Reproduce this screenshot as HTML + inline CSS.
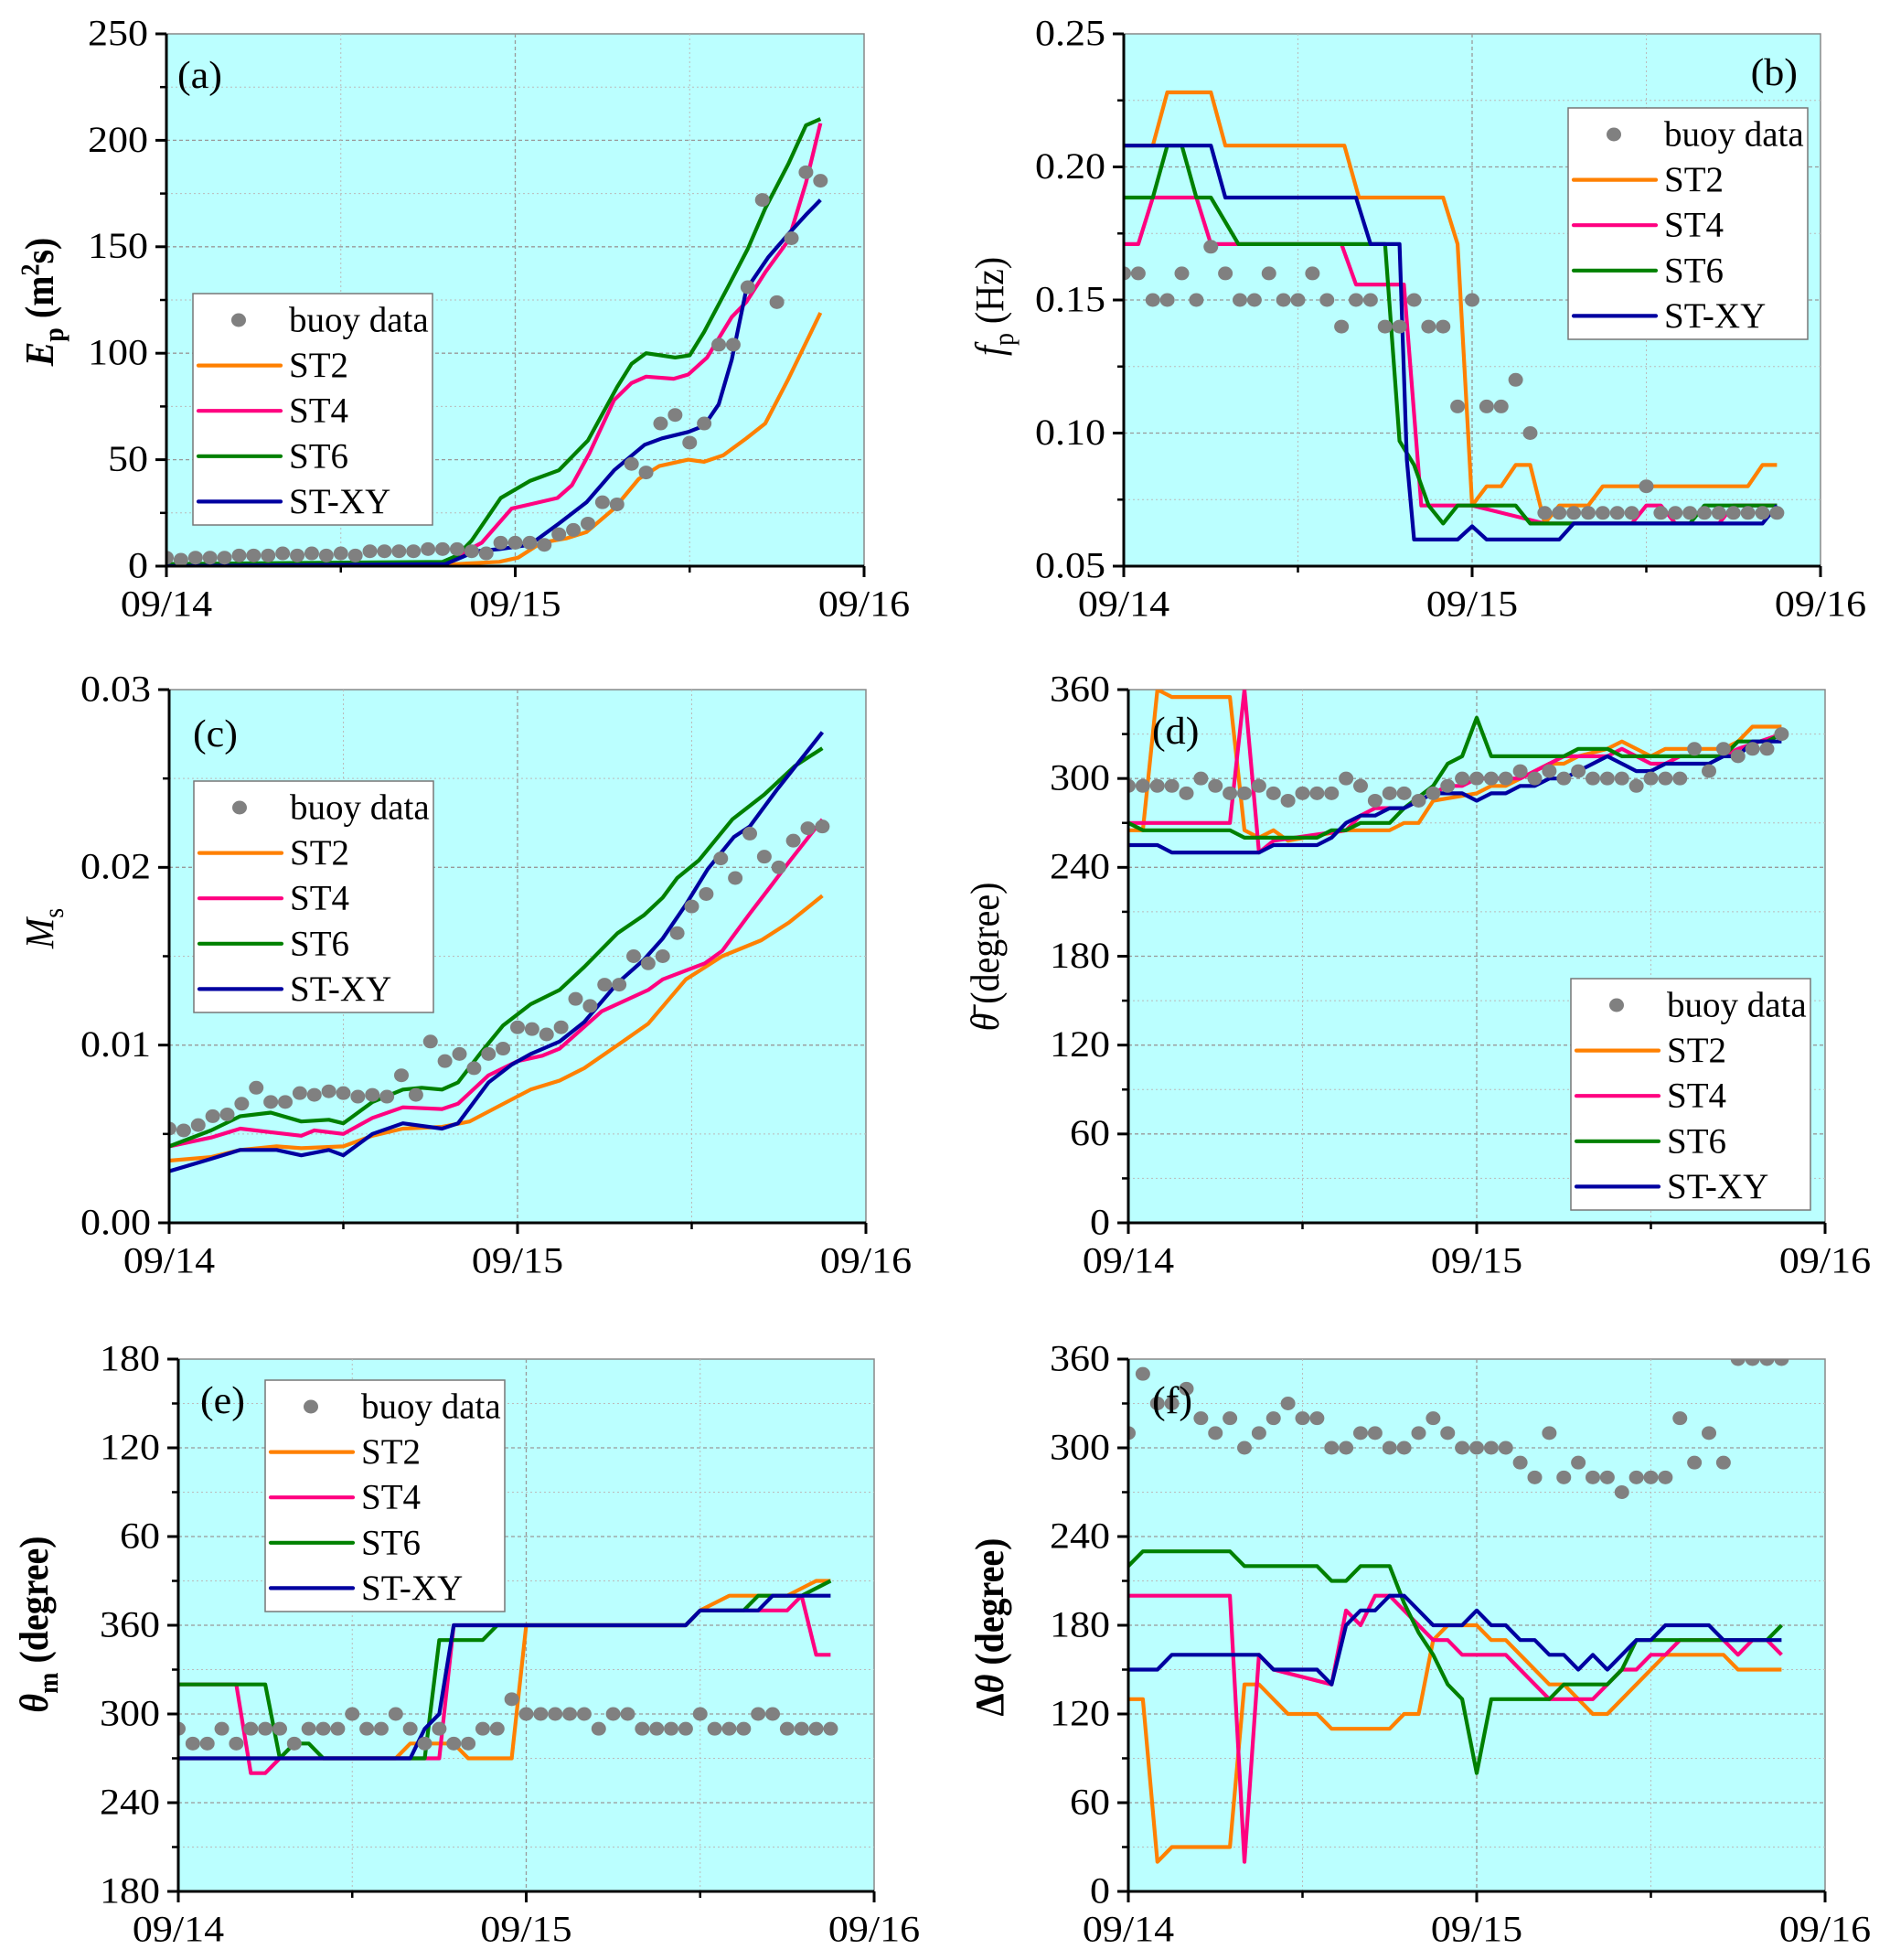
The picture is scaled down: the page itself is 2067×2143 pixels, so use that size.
<!DOCTYPE html>
<html><head><meta charset="utf-8"><style>
html,body{margin:0;padding:0;background:#fff;}
svg{display:block;}
svg text{font-family:"Liberation Serif",serif;}
</style></head><body>
<svg id="fig" xmlns="http://www.w3.org/2000/svg" width="2067" height="2143" viewBox="0 0 2067 2143">
<defs id="defs"></defs>
<text transform="translate(58,330) rotate(-90) scale(1,1.1)" text-anchor="middle" font-size="40" font-weight="bold"><tspan font-style="italic">E</tspan><tspan font-size="28" dy="10">p</tspan><tspan dy="-10"> (m</tspan><tspan font-size="26" dy="-14">2</tspan><tspan dy="14">s)</tspan></text>
<text transform="translate(1097,335) rotate(-90) scale(1,1.1)" text-anchor="middle" font-size="40"><tspan font-style="italic">f</tspan><tspan font-size="28" dy="10">p</tspan><tspan dy="-10"> (Hz)</tspan></text>
<text transform="translate(58,1015) rotate(-90) scale(1,1.1)" text-anchor="middle" font-size="40"><tspan font-style="italic">M</tspan><tspan font-size="28" dy="10">s</tspan></text>
<text transform="translate(1092,1046) rotate(-90) scale(1,1.1)" text-anchor="middle" font-size="40"><tspan font-style="italic">θ̄</tspan><tspan> (degree)</tspan></text>
<text transform="translate(52,1776) rotate(-90) scale(1,1.1)" text-anchor="middle" font-size="40" font-weight="bold"><tspan font-style="italic">θ</tspan><tspan font-size="28" dy="10">m</tspan><tspan dy="-10"> (degree)</tspan></text>
<text transform="translate(1097,1779) rotate(-90) scale(1,1.1)" text-anchor="middle" font-size="40" font-weight="bold"><tspan>Δ</tspan><tspan font-style="italic">θ</tspan><tspan> (degree)</tspan></text>
</svg>
<script>
const aBuoy=[4,3,4,4,4,5,5,5,6,5,6,5,6,5,7,7,7,7,8,8,8,7,6,11,11,11,10,15,17,20,30,29,48,44,67,71,58,67,104,104,131,172,124,154,185,181];
const aST2t=[0,19,20,22.9,24.2,25.8,27.5,28.9,30.8,32.5,33.9,35.9,37,38.3,39.9,41.2,42.8,45];
const aST2v=[0,0,1,2,4,11,13,16,27,41,47,50,49,52,60,67,88,119];
const aST4t=[0,19,19.5,21.7,23.75,25,26.9,27.9,29.1,30.8,32,33,34.9,35.9,37.2,38.9,39.9,41.2,42.8,44,45];
const aST4v=[1,1,3,11,27,29,32,38,53,78,86,89,88,90,98,117,124,138,153,180,208];
const aST6t=[0,19,20,21,22,23,25,27,29,31,32,33,34,35,36,37,38.7,40,41.2,42.8,44,45];
const aST6v=[1,2,5,12,22,32,40,45,59,84,95,100,99,98,99,110,132,149,168,189,207,210];
const aXYt=[0,19.2,21.3,22.9,25,27,28.9,30.8,32.9,34.1,35.9,37,38,38.9,39.9,41.4,42.8,44,45];
const aXYv=[0,1,7,8,10,20,30,45,57,60,63,66,76,97,130,145,156,165,172];
const aTicks=[0,50,100,150,200,250];
const aTickLabels=["0","50","100","150","200","250"];
const bBuoy=[0.16,0.16,0.15,0.15,0.16,0.15,0.17,0.16,0.15,0.15,0.16,0.15,0.15,0.16,0.15,0.14,0.15,0.15,0.14,0.14,0.15,0.14,0.14,0.11,0.15,0.11,0.11,0.12,0.10,0.07,0.07,0.07,0.07,0.07,0.07,0.07,0.08,0.07,0.07,0.07,0.07,0.07,0.07,0.07,0.07,0.07];
const bST2t=[0,2,3,6,7,15.2,16.2,22,23,24,25,26,27,28,29,30,32,33,43,44,45];
const bST2v=[0.208,0.208,0.228,0.228,0.208,0.208,0.1885,0.1885,0.171,0.0728,0.08,0.08,0.088,0.088,0.066,0.0728,0.0728,0.08,0.08,0.088,0.088];
const bST4t=[0,1,2,5,6,15,16,19.3,20.5,24,29,35,36,37,38,41,42,45];
const bST4v=[0.171,0.171,0.1885,0.1885,0.171,0.171,0.1558,0.1558,0.0728,0.0728,0.066,0.066,0.0728,0.0728,0.066,0.066,0.0728,0.0728];
const bST6t=[0,2,3,4,5,6,7.9,18,19,20,21,22,23,27,28,39,40,45];
const bST6v=[0.1885,0.1885,0.208,0.208,0.1885,0.1885,0.171,0.171,0.097,0.088,0.0728,0.066,0.0728,0.0728,0.066,0.066,0.0728,0.0728];
const bXYt=[0,6,7,16,17,19,19.5,20,23,24,25,30,31,44,45];
const bXYv=[0.208,0.208,0.1885,0.1885,0.171,0.171,0.09,0.06,0.06,0.065,0.06,0.06,0.066,0.066,0.0728];
const bTicks=[0.05,0.10,0.15,0.20,0.25];
const bTickLabels=["0.05","0.10","0.15","0.20","0.25"];
const cBuoy=[0.0053,0.0052,0.0055,0.006,0.0061,0.0067,0.0076,0.0068,0.0068,0.0073,0.0072,0.0074,0.0073,0.0071,0.0072,0.0071,0.0083,0.0072,0.0102,0.0091,0.0095,0.0087,0.0095,0.0098,0.011,0.0109,0.0106,0.011,0.0126,0.0122,0.0134,0.0134,0.015,0.0146,0.015,0.0163,0.0178,0.0185,0.0205,0.0194,0.0219,0.0206,0.02,0.0215,0.0222,0.0223];
const cST2t=[0,2.9,4.9,7.4,9.1,12,14,16.1,18.8,20.7,22.8,24.9,26.9,28.6,30.9,33,35.6,38.1,40.8,42.7,45];
const cST2v=[0.0035,0.0037,0.0041,0.0043,0.0042,0.0043,0.0049,0.0053,0.0054,0.0057,0.0066,0.0075,0.008,0.0087,0.01,0.0112,0.0137,0.015,0.0159,0.0169,0.0184];
const cST4t=[0,2.9,4.9,7,9.1,10,12,14,16.1,18.8,19.9,22,24,25.7,26.9,29.8,33,34,36.9,38.1,40,41.5,42.7,45];
const cST4v=[0.0043,0.0048,0.0053,0.0051,0.0049,0.0052,0.005,0.0059,0.0065,0.0064,0.0067,0.0083,0.0091,0.0094,0.0098,0.0119,0.0131,0.0137,0.0146,0.0153,0.0174,0.019,0.0203,0.0227];
const cST6t=[0,2.9,4.9,7,9.1,11,12,14,16.1,17.4,18.8,19.9,21.5,23,24.9,26.9,28.6,30.9,32.7,34,35,36.5,38.8,41,43.1,45];
const cST6v=[0.0043,0.0052,0.006,0.0062,0.0057,0.0058,0.0056,0.0068,0.0075,0.0076,0.0075,0.0079,0.0096,0.0111,0.0123,0.0131,0.0144,0.0163,0.0173,0.0183,0.0194,0.0204,0.0227,0.0241,0.0257,0.0267];
const cXYt=[0,2.9,4.9,7.4,9.1,11,12,14,16.1,18.8,19.9,22,23.6,24.9,26.9,28.6,30.9,32.7,34,35.6,37.1,38.9,40,41.9,45];
const cXYv=[0.0029,0.0036,0.0041,0.0041,0.0038,0.0041,0.0038,0.005,0.0056,0.0053,0.0056,0.0079,0.0089,0.0095,0.0102,0.0113,0.0135,0.0148,0.016,0.0179,0.0199,0.0217,0.0223,0.0244,0.0276];
const cTicks=[0,0.01,0.02,0.03];
const cTickLabels=["0.00","0.01","0.02","0.03"];
const dBuoy=[295,295,295,295,290,300,295,290,290,295,290,285,290,290,290,300,295,285,290,290,285,290,295,300,300,300,300,305,300,305,300,305,300,300,300,295,300,300,300,320,305,320,315,320,320,330];
const dST2t=[0,1,2,3,7,8,9,10,11,15,18,19,20,21,24,25,26,27,28,29,30,31,33,34,35,36,37,41,42,43,45];
const dST2v=[265,265,360,355,355,265,260,265,258,265,265,270,270,285,290,295,295,300,305,310,310,315,320,325,320,315,320,320,325,335,335];
const dST4t=[0,7,8,9,10,15,16,17,19,20,21,22,23,24,27,28,30,33,34,35,36,37,38,41,42,45];
const dST4v=[270,270,360,250,258,265,275,280,280,285,290,295,295,300,300,305,315,315,320,315,310,310,315,315,320,330];
const dST6t=[0,1,7,8,13,14,15,16,18,19,21,22,23,24,25,30,31,33,34,41,42,44,45];
const dST6v=[270,265,265,260,260,265,265,270,270,280,295,310,315,341,315,315,320,320,315,315,325,325,330];
const dXYt=[0,2,3,9,10,13,14,15,16,17,18,19,20,21,23,24,25,26,27,28,29,30,31,32,33,34,35,36,37,40,41,42,43,45];
const dXYv=[255,255,250,250,255,255,260,270,275,275,280,280,285,290,290,285,290,290,295,295,300,300,305,310,315,310,305,305,310,310,315,315,325,325];
const dTicks=[0,60,120,180,240,300,360];
const dTickLabels=["0","60","120","180","240","300","360"];
const eBuoy=[290,280,280,290,280,290,290,290,280,290,290,290,300,290,290,300,290,280,290,280,280,290,290,310,300,300,300,300,300,290,300,300,290,290,290,290,300,290,290,290,300,300,290,290,290,290];
const eST2t=[0,15,16,19,20,23,24,35,36,38,42,44,45];
const eST2v=[270,270,280,280,270,270,360,360,370,380,380,390,390];
const eST4t=[0,4,5,6,7,18,19,35,36,42,43,44,45];
const eST4v=[320,320,260,260,270,270,360,360,370,370,380,340,340];
const eST6t=[0,6,7,8,9,10,17,18,21,22,35,36,39,40,43,45];
const eST6v=[320,320,270,280,280,270,270,350,350,360,360,370,370,380,380,390];
const eXYt=[0,16,17,18,19,35,36,40,41,45];
const eXYv=[270,270,290,300,360,360,370,370,380,380];
const eTicks=[180,240,300,360,420,480,540];
const eTickLabels=["180","240","300","360","60","120","180"];
const fBuoy=[310,350,330,330,340,320,310,320,300,310,320,330,320,320,300,300,310,310,300,300,310,320,310,300,300,300,300,290,280,310,280,290,280,280,270,280,280,280,320,290,310,290,360,360,360,360];
const fST2t=[0,1,2,3,7,8,9,11,13,14,18,19,20,21,22,24,25,26,28,29,30,32,33,36,37,41,42,45];
const fST2v=[130,130,20,30,30,140,140,120,120,110,110,120,120,170,180,180,170,170,150,140,140,120,120,150,160,160,150,150];
const fST4t=[0,7,8,9,10,14,15,16,17,18,19,20,21,22,23,26,27,29,32,33,34,35,36,37,38,41,42,43,44,45];
const fST4v=[200,200,20,160,150,140,190,180,200,200,190,180,170,170,160,160,150,130,130,140,150,150,160,160,170,170,160,170,170,160];
const fST6t=[0,1,7,8,13,14,15,16,18,19,20,21,22,23,24,25,29,30,33,34,35,42,44,45];
const fST6v=[220,230,230,220,220,210,210,220,220,195,175,160,140,130,80,130,130,140,140,150,170,170,170,180];
const fXYt=[0,2,3,9,10,13,14,15,16,17,18,19,20,21,23,24,25,26,27,28,29,30,31,32,33,34,35,36,37,40,41,45];
const fXYv=[150,150,160,160,150,150,140,180,190,190,200,200,190,180,180,190,180,180,170,170,160,160,150,160,150,160,170,170,180,180,170,170];
const fTicks=[0,60,120,180,240,300,360];
const fTickLabels=["0","60","120","180","240","300","360"];

const buoyHours=[0,1,2,3,4,5,6,7,8,9,10,11,12,13,14,15,16,17,18,19,20,21,22,23,24,25,26,27,28,29,30,31,32,33,34,35,36,37,38,39,40,41,42,43,44,45];
const xTickHours=[0,24,48];
const xTickLabels=["09/14","09/15","09/16"];
const seriesNames=["ST2","ST4","ST6","ST-XY"];
const seriesColors=["#FF8000","#FF0080","#008000","#0000A0"];

const NS="http://www.w3.org/2000/svg";
const svg=document.getElementById('fig');
const defs=document.getElementById('defs');
function mk(tag,attrs,parent){const e=document.createElementNS(NS,tag);for(const k in attrs)e.setAttribute(k,attrs[k]);(parent||svg).appendChild(e);return e;}
function label(parent,x,y,str,anchor,size,name,sx){
  const t=mk('text',{transform:`translate(${x},${y}) scale(${sx},1)`,'text-anchor':anchor,'font-size':size,'dominant-baseline':'central',fill:'#000','font-family':'Liberation Serif, serif'},parent);
  t.textContent=str;
  
  
  return t;
}

const panels=[
 {id:'a',x0:182,x1:945,y0:37,y1:619,ymin:0,ymax:250,ticks:aTicks,tl:aTickLabels,buoy:aBuoy,t:[aST2t,aST4t,aST6t,aXYt],v:[aST2v,aST4v,aST6v,aXYv],leg:[211,321],lab:[194,83,'start']},
 {id:'b',x0:1229,x1:1991,y0:37,y1:619,ymin:0.05,ymax:0.25,ticks:bTicks,tl:bTickLabels,buoy:bBuoy,t:[bST2t,bST4t,bST6t,bXYt],v:[bST2v,bST4v,bST6v,bXYv],leg:[1715,118],lab:[1966,80,'end']},
 {id:'c',x0:185,x1:947,y0:754,y1:1337,ymin:0,ymax:0.03,ticks:cTicks,tl:cTickLabels,buoy:cBuoy,t:[cST2t,cST4t,cST6t,cXYt],v:[cST2v,cST4v,cST6v,cXYv],leg:[212,854],lab:[211,803,'start']},
 {id:'d',x0:1234,x1:1996,y0:754,y1:1337,ymin:0,ymax:360,ticks:dTicks,tl:dTickLabels,buoy:dBuoy,t:[dST2t,dST4t,dST6t,dXYt],v:[dST2v,dST4v,dST6v,dXYv],leg:[1718,1070],lab:[1260,800,'start']},
 {id:'e',x0:195,x1:956,y0:1486,y1:2068,ymin:180,ymax:540,ticks:eTicks,tl:eTickLabels,buoy:eBuoy,t:[eST2t,eST4t,eST6t,eXYt],v:[eST2v,eST4v,eST6v,eXYv],leg:[290,1509],lab:[219,1532,'start']},
 {id:'f',x0:1234,x1:1996,y0:1486,y1:2068,ymin:0,ymax:360,ticks:fTicks,tl:fTickLabels,buoy:fBuoy,t:[fST2t,fST4t,fST6t,fXYt],v:[fST2v,fST4v,fST6v,fXYv],leg:null,lab:[1260,1532,'start']}
];

panels.forEach(p=>{
  const g=mk('g',{});
  
  
  const xs=h=>p.x0+(p.x1-p.x0)*h/48;
  const ys=v=>p.y1-(p.y1-p.y0)*(v-p.ymin)/(p.ymax-p.ymin);
  const bg=mk('rect',{x:p.x0,y:p.y0,width:p.x1-p.x0,height:p.y1-p.y0,fill:'#BBFFFF',stroke:'#888','stroke-width':1.5},g);
  
  
  const cp=mk('clipPath',{id:'clip-'+p.id},defs);
  mk('rect',{x:p.x0,y:p.y0,width:p.x1-p.x0,height:p.y1-p.y0},cp);
  const step=p.ticks[1]-p.ticks[0];
  for(let i=0;i<p.ticks.length;i++){
    const yv=ys(p.ticks[i]);
    if(i>0&&i<p.ticks.length-1){const gl=mk('line',{x1:p.x0,x2:p.x1,y1:yv,y2:yv,stroke:'#999','stroke-width':1.3,'stroke-dasharray':'4,3'},g);
      
      }
    if(i<p.ticks.length-1){const ym=ys(p.ticks[i]+step/2);
      const gm=mk('line',{x1:p.x0,x2:p.x1,y1:ym,y2:ym,stroke:'#bbb','stroke-width':1,'stroke-dasharray':'2,3'},g);
      
      
      mk('line',{x1:p.x0-7,x2:p.x0,y1:ym,y2:ym,stroke:'#000','stroke-width':2.5},g);}
  }
  [12,24,36].forEach(h=>{const gx=mk('line',{x1:xs(h),x2:xs(h),y1:p.y0,y2:p.y1,stroke:h==24?'#999':'#bbb','stroke-width':h==24?1.3:1,'stroke-dasharray':h==24?'4,3':'2,3'},g);
    
    });
  const sg=mk('g',{'clip-path':`url(#clip-${p.id})`},g);
  for(let s=0;s<4;s++){
    const pts=p.t[s].map((h,i)=>xs(h).toFixed(1)+','+ys(p.v[s][i]).toFixed(1)).join(' ');
    const pl=mk('polyline',{points:pts,fill:'none',stroke:seriesColors[s],'stroke-width':4.2,'stroke-linejoin':'round'},sg);
    
    
  }
  p.buoy.forEach((v,i)=>{
    const c=mk('ellipse',{cx:xs(buoyHours[i]),cy:ys(v),rx:8,ry:7.5,fill:'#808080'},sg);
    
    
  });
  const ax=mk('line',{x1:p.x0,x2:p.x0,y1:p.y0,y2:p.y1+10,stroke:'#000','stroke-width':3},g);
  
  
  const bx=mk('line',{x1:p.x0,x2:p.x1,y1:p.y1,y2:p.y1,stroke:'#000','stroke-width':3},g);
  
  
  p.ticks.forEach((tv,i)=>{
    const yv=ys(tv);
    mk('line',{x1:p.x0-12,x2:p.x0,y1:yv,y2:yv,stroke:'#000','stroke-width':3},g);
    label(g,p.x0-20,yv,p.tl[i],'end',40,'y-tick-label',1.1);
  });
  [12,36].forEach(h=>mk('line',{x1:xs(h),x2:xs(h),y1:p.y1,y2:p.y1+7,stroke:'#000','stroke-width':2.5},g));
  xTickHours.forEach((h,i)=>{
    mk('line',{x1:xs(h),x2:xs(h),y1:p.y1,y2:p.y1+12,stroke:'#000','stroke-width':3},g);
    label(g,xs(h),p.y1+42,xTickLabels[i],'middle',40,'x-tick-label',1.1);
  });
  label(g,p.lab[0],p.lab[1],'('+p.id+')',p.lab[2],42,'panel-label-'+p.id,1.05);
  if(p.leg){
    const lg=mk('g',{},g);
    
    
    const lx=p.leg[0],ly=p.leg[1];
    mk('rect',{x:lx,y:ly,width:262,height:253,fill:'#fff',stroke:'#777','stroke-width':1.5},lg);
    const cy0=ly+29;
    mk('ellipse',{cx:lx+50,cy:cy0,rx:8,ry:7.5,fill:'#808080'},lg);
    label(lg,lx+105,cy0,'buoy data','start',39,'legend-entry',1.0);
    for(let s=0;s<4;s++){
      const cy=cy0+49.6*(s+1);
      mk('line',{x1:lx+6,x2:lx+96,y1:cy,y2:cy,stroke:seriesColors[s],'stroke-width':4.2,'stroke-linecap':'round'},lg);
      label(lg,lx+105,cy,seriesNames[s],'start',39,'legend-entry',1.0);
    }
  }
});
</script>
</body></html>
